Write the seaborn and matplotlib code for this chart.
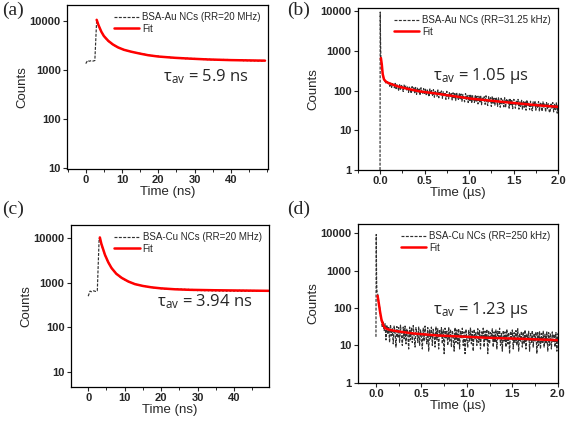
import numpy as np
import pandas as pd
import matplotlib
matplotlib.use('Agg')
import matplotlib.pyplot as plt
import seaborn as sns
from matplotlib.ticker import FixedLocator, NullLocator, AutoMinorLocator, FuncFormatter

# ---------------- data ----------------
# panel (a): BSA-Au NCs, RR = 20 MHz, time in ns
a_t = np.arange(0, 49.01, 0.5)
a_counts = [1350, 1560, 1510, 1550, 1520, 1560, 10300, 8100, 6700, 5600,
            4900, 4380, 4020, 3700, 3480, 3270, 3120, 2960, 2870, 2760,
            2680, 2590, 2530, 2460, 2420, 2350, 2330, 2270, 2250, 2190,
            2180, 2120, 2110, 2060, 2060, 2000, 2010, 1950, 1960, 1900,
            1920, 1860, 1880, 1830, 1850, 1800, 1830, 1770, 1800, 1750,
            1790, 1730, 1770, 1710, 1760, 1690, 1740, 1680, 1730, 1670,
            1720, 1650, 1710, 1640, 1700, 1630, 1690, 1620, 1680, 1610,
            1670, 1600, 1660, 1590, 1650, 1600, 1640, 1580, 1640, 1570,
            1630, 1570, 1620, 1560, 1610, 1560, 1610, 1540, 1600, 1540,
            1600, 1530, 1590, 1530, 1590, 1520, 1580, 1520, 1570]
a_fit_t = [3.0, 3.5, 4.3, 5.0, 6.2, 7.5, 8.9, 10.5, 12.6, 15, 17.2, 20, 24.6, 29, 33.7, 40, 49.4]
a_fit_c = [10500, 8200, 6000, 4900, 3920, 3300, 2880, 2580, 2350, 2150, 2000, 1880, 1770, 1700, 1640, 1590, 1550]

# panel (b): BSA-Au NCs, RR = 31.25 kHz, time in us
b_t_head = [0.0, 0.002, 0.006]
b_c_head = [1, 9500, 1500]
b_t_tail = np.round(np.arange(0.01, 2.0001, 0.01), 3)
b_c_tail = [640, 420, 250, 200, 178, 165, 150, 168, 142, 160,
            128, 155, 120, 150, 132, 118, 152, 112, 140, 122,
            98, 140, 108, 135, 125, 95, 138, 110, 130, 100,
            128, 90, 122, 105, 85, 126, 98, 118, 88, 120,
            80, 115, 92, 110, 76, 118, 95, 82, 112, 85,
            108, 74, 104, 90, 70, 110, 82, 100, 72, 106,
            68, 100, 86, 72, 104, 66, 96, 80, 98, 64,
            94, 70, 90, 60, 96, 74, 62, 92, 68, 88,
            58, 88, 66, 84, 56, 90, 70, 60, 86, 62,
            82, 54, 80, 64, 52, 84, 60, 78, 50, 76,
            56, 80, 48, 74, 60, 50, 78, 54, 72, 46,
            72, 52, 76, 44, 68, 56, 70, 45, 74, 50,
            42, 70, 54, 66, 40, 72, 48, 64, 43, 68,
            62, 40, 66, 50, 38, 64, 46, 60, 39, 66,
            37, 62, 48, 58, 36, 64, 44, 56, 35, 60,
            58, 36, 54, 44, 60, 34, 52, 40, 57, 33,
            55, 38, 52, 32, 58, 42, 50, 33, 54, 36,
            31, 52, 40, 55, 32, 48, 36, 53, 30, 50,
            48, 30, 52, 38, 46, 29, 50, 35, 47, 30,
            28, 48, 36, 50, 29, 45, 33, 49, 27, 44]
b_fit_t = [0.01, 0.02, 0.03, 0.045, 0.07, 0.11, 0.2, 0.3, 0.45, 0.6, 0.8, 1.01, 1.3, 1.57, 1.8, 2.0]
b_fit_c = [660, 450, 260, 190, 165, 150, 127, 112, 95, 86, 74, 63, 54, 47, 42, 39]

# panel (c): BSA-Cu NCs, RR = 20 MHz, time in ns
c_t = np.arange(0, 49.01, 0.5)
c_counts = [500, 650, 630, 660, 640, 660, 10000, 7900, 5700, 4450,
            3500, 2900, 2450, 2120, 1860, 1660, 1510, 1400, 1310, 1240,
            1170, 1120, 1070, 1030, 990, 960, 925, 905, 880, 870,
            845, 840, 815, 815, 790, 795, 770, 780, 750, 765,
            735, 755, 725, 745, 715, 740, 705, 735, 700, 730,
            690, 725, 685, 720, 680, 715, 675, 710, 670, 705,
            665, 700, 665, 700, 660, 695, 660, 695, 655, 690,
            655, 690, 650, 688, 650, 686, 648, 684, 648, 682,
            645, 680, 645, 680, 642, 678, 642, 676, 640, 675,
            640, 674, 638, 672, 638, 670, 636, 670, 635]
c_fit_t = [3.2, 3.6, 4.6, 5.5, 6.4, 7.7, 9.2, 11, 12.8, 15, 17.4, 20, 23.8, 28, 34.8, 42, 49.5]
c_fit_c = [10500, 7600, 4260, 2900, 2150, 1600, 1290, 1070, 935, 850, 790, 750, 715, 695, 680, 670, 660]

# panel (d): BSA-Cu NCs, RR = 250 kHz, time in us
d_t_head = [0.0, 0.003, 0.007]
d_c_head = [17, 9400, 600]
d_t_tail = np.round(np.arange(0.01, 2.0001, 0.01), 3)
d_c_tail = [300, 230, 150, 110, 60, 45, 30, 42, 25, 38,
            14, 35, 20, 30, 12, 36, 18, 28, 11, 34,
            22, 9, 32, 16, 30, 12, 35, 19, 10, 31,
            15, 33, 11, 28, 20, 8, 31, 14, 29, 12,
            34, 17, 9, 30, 21, 12, 32, 10, 27, 16,
            8, 29, 13, 33, 18, 11, 30, 7, 26, 15,
            31, 10, 27, 19, 9, 32, 14, 28, 8, 25,
            17, 30, 11, 26, 6, 29, 15, 24, 10, 31,
            13, 27, 9, 25, 18, 7, 30, 12, 26, 11,
            28, 8, 24, 16, 29, 10, 23, 6, 27, 14,
            9, 26, 13, 30, 11, 24, 7, 27, 15, 22,
            10, 28, 12, 25, 8, 23, 17, 29, 9, 24,
            14, 27, 6, 25, 11, 22, 16, 28, 9, 23,
            12, 26, 8, 24, 15, 29, 10, 21, 7, 25,
            13, 23, 9, 27, 11, 22, 6, 24, 14, 26,
            8, 22, 12, 25, 10, 28, 7, 21, 13, 24,
            9, 23, 11, 26, 8, 20, 14, 24, 7, 22,
            12, 25, 9, 21, 13, 23, 6, 22, 10, 24,
            8, 21, 12, 24, 9, 20, 11, 23, 7, 22,
            10, 21, 8, 23, 12, 20, 9, 22, 7, 21]
d_fit_t = [0.018, 0.03, 0.045, 0.06, 0.08, 0.1, 0.15, 0.23, 0.4, 0.67, 1.0, 1.22, 1.6, 2.0]
d_fit_c = [214, 140, 80, 50, 35, 29, 26, 24, 21, 18.5, 17, 16, 15, 13.8]

labels = ['BSA-Au NCs (RR=20 MHz)', 'BSA-Au NCs (RR=31.25 kHz)',
          'BSA-Cu NCs (RR=20 MHz)', 'BSA-Cu NCs (RR=250 kHz)']
tau_texts = ['5.9 ns', '1.05 µs', '3.94 ns', '1.23 µs']
panel_tags = ['(a)', '(b)', '(c)', '(d)']
ns_ticks = [0, 10, 20, 30, 40]
us_ticks = [0.0, 0.5, 1.0, 1.5, 2.0]

# ---------------- style ----------------
sns.set_style('ticks')
plt.rcParams['font.family'] = ['Liberation Sans', 'DejaVu Sans']
plt.rcParams['mathtext.fontset'] = 'custom'
plt.rcParams['mathtext.rm'] = 'Open Sans:weight=regular'
plt.rcParams['mathtext.it'] = 'Open Sans:italic'
plt.rcParams['axes.linewidth'] = 0.9
plt.rcParams['axes.edgecolor'] = 'black'

fig = plt.figure(figsize=(5.67, 4.21), dpi=100)

positions = [
    [0.118, 0.5986, 0.3545, 0.3895],
    [0.631, 0.5962, 0.3533, 0.3848],
    [0.1247, 0.0815, 0.3497, 0.3841],
    [0.631, 0.0910, 0.3527, 0.3770],
]
panels = [
    dict(t=a_t, c=a_counts, ft=a_fit_t, fc=a_fit_c, xlim=(-5.2, 50.2), ylim=(9.7, 2.1e4),
         yt=[10, 100, 1000, 10000], xt=ns_ticks, xl='Time (ns)', tau=(0.478, 0.561), fmt='{:.0f}'),
    dict(t=np.concatenate([b_t_head, b_t_tail]), c=b_c_head + b_c_tail, ft=b_fit_t, fc=b_fit_c,
         xlim=(-0.25, 2.0), ylim=(1, 1.2e4), yt=[1, 10, 100, 1000, 10000], xt=us_ticks,
         xl='Time (µs)', tau=(0.376, 0.580), fmt='{:.1f}'),
    dict(t=c_t, c=c_counts, ft=c_fit_t, fc=c_fit_c, xlim=(-4.8, 49.6), ylim=(4.6, 2.0e4),
         yt=[10, 100, 1000, 10000], xt=ns_ticks, xl='Time (ns)', tau=(0.435, 0.524), fmt='{:.0f}'),
    dict(t=np.concatenate([d_t_head, d_t_tail]), c=d_c_head + d_c_tail, ft=d_fit_t, fc=d_fit_c,
         xlim=(-0.2, 2.0), ylim=(1, 1.8e4), yt=[1, 10, 100, 1000, 10000], xt=us_ticks,
         xl='Time (µs)', tau=(0.376, 0.458), fmt='{:.1f}'),
]

axes = []
for i, p in enumerate(panels):
    ax = fig.add_axes(positions[i])
    axes.append(ax)
    ax.set_yscale('log')
    df = pd.DataFrame({'t': p['t'], 'c': p['c']})
    fdf = pd.DataFrame({'t': p['ft'], 'c': p['fc']})
    sns.lineplot(data=df, x='t', y='c', ax=ax, estimator=None, sort=False,
                 color='#303030', lw=0.85, linestyle=(0, (2.5, 1.2)), label=labels[i])
    sns.lineplot(data=fdf, x='t', y='c', ax=ax, estimator=None, sort=False,
                 color='#ff0000', lw=1.8, label='Fit')
    ax.set_xlim(*p['xlim'])
    ax.set_ylim(*p['ylim'])
    ax.yaxis.set_major_locator(FixedLocator(p['yt']))
    ax.yaxis.set_minor_locator(NullLocator())
    ax.yaxis.set_major_formatter(FuncFormatter(lambda v, pos: f'{int(round(v))}'))
    ax.xaxis.set_major_locator(FixedLocator(p['xt']))
    ax.xaxis.set_minor_locator(AutoMinorLocator(2))
    fmt = p['fmt']
    ax.xaxis.set_major_formatter(FuncFormatter(lambda v, pos, f=fmt: f.format(v)))
    ax.tick_params(which='major', direction='out', length=3, width=0.8, pad=1.5,
                   labelsize=8, top=False, right=False)
    ax.tick_params(which='minor', direction='out', length=1.8, width=0.7,
                   top=False, right=False)
    for s in ax.spines.values():
        s.set_visible(True)
        s.set_color('black')
        s.set_linewidth(0.9)
    ax.set_xlabel(p['xl'], fontsize=9.5, labelpad=0.5)
    ax.set_ylabel('Counts', fontsize=9.5, labelpad=1)
    ax.legend(loc='upper right', frameon=False, prop={'size': 7},
              handlelength=2.6, labelspacing=0.15, borderaxespad=0.55,
              handletextpad=0.3, borderpad=0.2)
    ax.text(p['tau'][0], p['tau'][1], 'τ$_{\\rm av}$ = ' + tau_texts[i],
            transform=ax.transAxes, ha='left', va='center', fontsize=12,
            family=['Open Sans', 'DejaVu Sans'])

tag_pos = [(0.003, 0.975), (0.506, 0.975), (0.003, 0.503), (0.506, 0.503)]
for (x, y), tag in zip(tag_pos, panel_tags):
    fig.text(x, y, tag, ha='left', va='center', fontsize=14,
             family=['Liberation Serif', 'DejaVu Serif'])

fig.canvas.draw()
for ax in axes:
    for lab in ax.get_xticklabels() + ax.get_yticklabels():
        lab.set_fontweight('bold')

fig.savefig('out.png', dpi=100)
